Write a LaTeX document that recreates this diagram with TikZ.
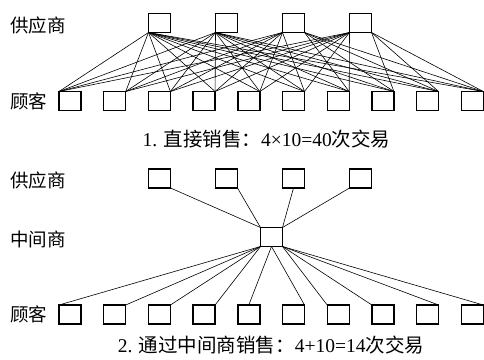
\documentclass[tikz,border=0pt]{standalone}
\usepackage{fontspec}
\setmainfont{Liberation Serif}
\newfontfamily\cjk{Noto Sans CJK SC}
\usetikzlibrary{calc}
\begin{document}
\begin{tikzpicture}[x=1pt,y=-1pt,
 box/.style={draw,line width=1.4pt,minimum width=22pt,minimum height=19pt,inner sep=0pt,outer sep=0pt},
 link/.style={line width=0.6pt},
 lbl/.style={anchor=west,inner sep=0pt,font=\fontsize{18.5}{18.5}\selectfont\cjk},
 captext/.style={inner sep=0pt,font=\fontsize{19.5}{19.5}\selectfont}]
\useasboundingbox (0,0) rectangle (484,359);
% boxes
\foreach \i/\x in {1/159.5,2/226.5,3/293.5,4/360.5}{
  \node[box] (s\i) at (\x,23) {};
  \node[box] (t\i) at (\x,178.5) {};
}
\foreach \i in {1,...,10}{
  \node[box] (c\i) at ({70+44.7*(\i-1)},101) {};
  \node[box] (d\i) at ({70+44.7*(\i-1)},314.5) {};
}
\node[box] (m) at (271.5,237) {};
% part 1: direct links
\foreach \s/\k in {1/10,2/10,3/6,4/7}{
  \foreach \j/\a in {1/north west,2/north east,3/north east,4/north east,5/north east,6/north east,7/north east,8/north east,9/north east,10/north east}{
    \ifnum\j>\k \def\sa{south east}\else\def\sa{south west}\fi
    \draw[link] (s\s.\sa) -- (c\j.\a);
  }
}
% part 2: via middleman
\draw[link] (t1.south east) -- (m.north west);
\draw[link] (t2.south east) -- (m.north west);
\draw[link] (t3.south) -- (m.north east);
\draw[link] (t4.south west) -- (m.north east);
\draw[link] (m.south west) -- (d1.north west);
\draw[link] (m.south west) -- (d2.north east);
\draw[link] (m.south west) -- (d3.north east);
\draw[link] (m.south west) -- (d4.north east);
\draw[link] (m.south) -- (d5.north);
\draw[link] (m.south) -- (d6.north east);
\draw[link] (m.south east) -- (d7.north west);
\draw[link] (m.south east) -- (d8.north west);
\draw[link] (m.south east) -- (d9.north east);
\draw[link] (m.south east) -- (d10.north east);
% labels
\node[lbl] (l1) at (10,25) {供应商};
\node[lbl] (l2) at (10,101) {顾客};
\node[lbl] (l3) at (10,180) {供应商};
\node[lbl] (l4) at (10,239) {中间商};
\node[lbl] (l5) at (10,314) {顾客};
\node[captext] (cap1) at (266.5,139) {1. {\cjk 直接销售：}4×10=40{\cjk 次交易}};
\node[captext] (cap2) at (271,345) {2. {\cjk 通过中间商销售：}4+10=14{\cjk 次交易}};
\end{tikzpicture}
\end{document}
